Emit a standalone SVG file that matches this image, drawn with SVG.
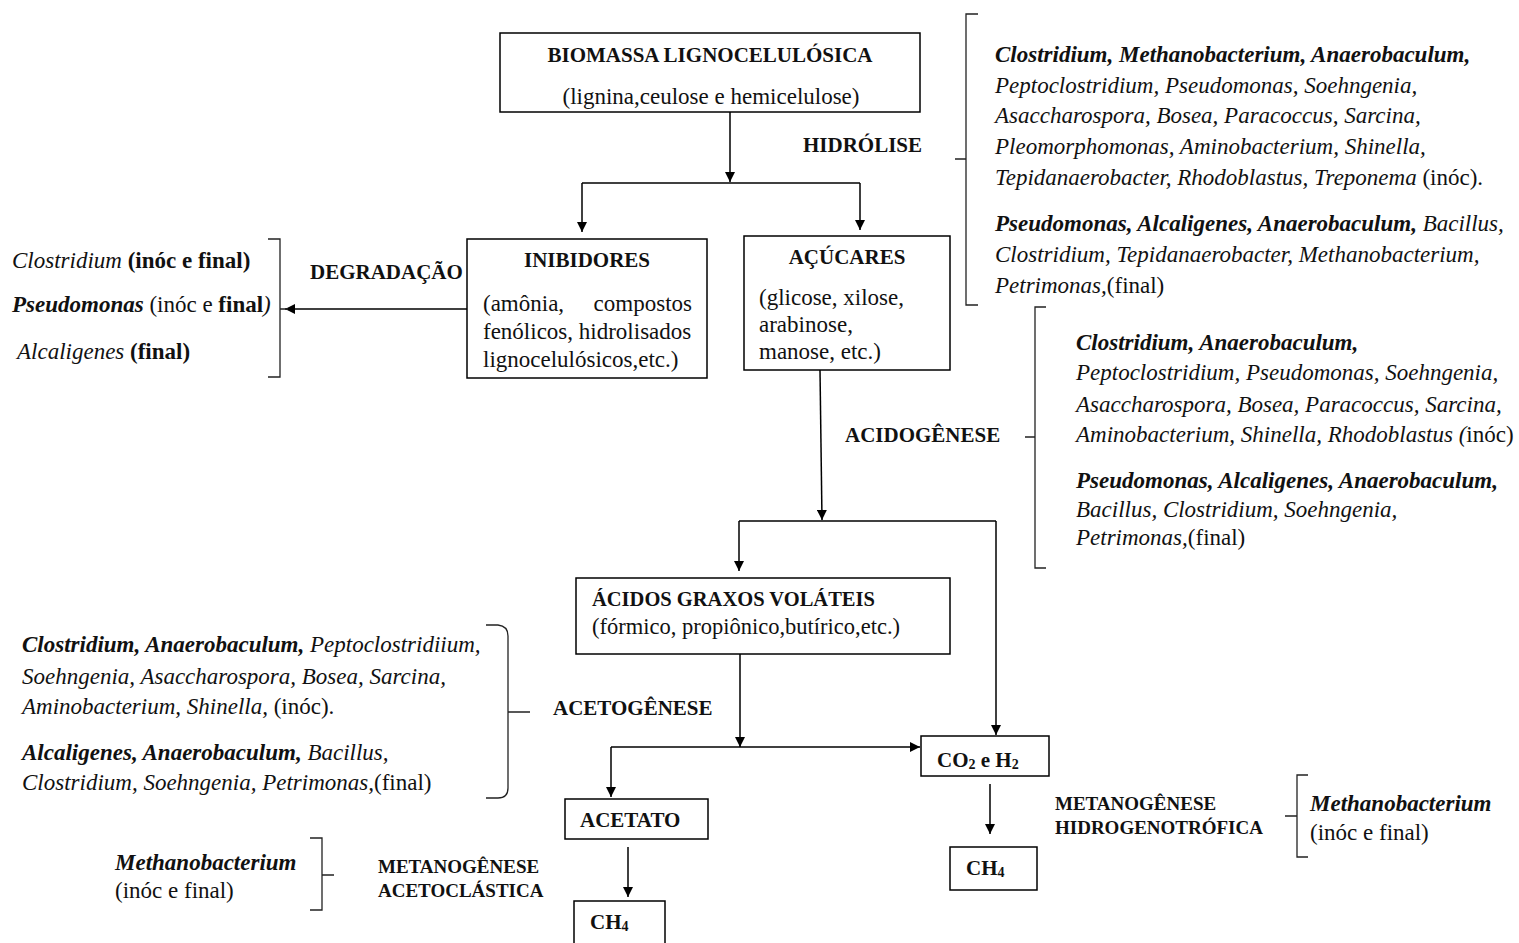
<svg xmlns="http://www.w3.org/2000/svg" width="1519" height="943" viewBox="0 0 1519 943">
<defs>
<marker id="ah" viewBox="0 0 10 10" refX="10" refY="5" markerWidth="10" markerHeight="10" markerUnits="userSpaceOnUse" orient="auto">
<path d="M0,0 L10,5 L0,10 z" fill="#000"/>
</marker>
<style>
text{font-family:"Liberation Serif","Times New Roman",serif;fill:#111;}
.box{fill:#fff;stroke:#000;stroke-width:1.5;}
.ln{fill:none;stroke:#000;stroke-width:1.5;}
.arr{fill:none;stroke:#000;stroke-width:1.5;marker-end:url(#ah);}
.br{fill:none;stroke:#222;stroke-width:1.3;}
.t{font-size:21px;font-weight:bold;}
.s{font-size:19px;font-weight:bold;}
.b{font-size:23px;}
.i{font-style:italic;}
.bi{font-style:italic;font-weight:bold;}
.bo{font-weight:bold;}
</style>
</defs>
<rect width="1519" height="943" fill="#fff"/>

<g id="connectors">
<path class="arr" d="M730,112 L730,182"/>
<path class="ln" d="M582,183 L860,183"/>
<path class="arr" d="M582,183 L582,232"/>
<path class="arr" d="M860,183 L860,230"/>
<path class="arr" d="M467,309 L285,309"/>
<path class="arr" d="M820,370 L822,520"/>
<path class="ln" d="M739,521 L996,521"/>
<path class="arr" d="M739,521 L739,571"/>
<path class="arr" d="M996,521 L996,735"/>
<path class="arr" d="M740,654 L740,747"/>
<path class="arr" d="M611,747 L920,747"/>
<path class="arr" d="M611,747 L611,797"/>
<path class="arr" d="M990,784 L990,834"/>
<path class="arr" d="M628,847 L628,897"/>
</g>

<g id="biomassa">
<rect class="box" x="500" y="33" width="420" height="79"/>
<text class="t" x="710" y="62" text-anchor="middle">BIOMASSA LIGNOCELULÓSICA</text>
<text class="b" x="711" y="104" text-anchor="middle">(lignina,ceulose e hemicelulose)</text>
</g>
<g id="hidrolise"><text class="t" x="803" y="152">HIDRÓLISE</text></g>

<g id="inibidores">
<rect class="box" x="467" y="239" width="240" height="139"/>
<text class="t" x="587" y="267" text-anchor="middle">INIBIDORES</text>
<text class="b" x="483" y="311">(amônia,</text>
<text class="b" x="692" y="311" text-anchor="end">compostos</text>
<text class="b" x="483" y="339">fenólicos, hidrolisados</text>
<text class="b" x="483" y="367">lignocelulósicos,etc.)</text>
</g>

<g id="acucares">
<rect class="box" x="744" y="236" width="206" height="134"/>
<text class="t" x="847" y="264" text-anchor="middle">AÇÚCARES</text>
<text class="b" x="759" y="305">(glicose, xilose,</text>
<text class="b" x="759" y="332">arabinose,</text>
<text class="b" x="759" y="359">manose, etc.)</text>
</g>

<g id="degradacao">
<text class="t" x="310" y="279">DEGRADAÇÃO</text>
<path class="br" d="M268,239 L280,239 L280,377 L268,377 M280,309 L288,309"/>
<text class="b" x="12" y="268"><tspan class="i">Clostridium</tspan> <tspan class="bo">(inóc e final)</tspan></text>
<text class="b" x="12" y="312"><tspan class="bi">Pseudomonas</tspan> (inóc e <tspan class="bo">final</tspan><tspan class="i">)</tspan></text>
<text class="b" x="17" y="359"><tspan class="i">Alcaligenes</tspan> <tspan class="bo">(final)</tspan></text>
</g>

<g id="hidrolise-microbes">
<path class="br" d="M978,14 L966,14 L966,305 L978,305 M966,159 L955,159"/>
<text class="b" x="995" y="62"><tspan class="bi">Clostridium, Methanobacterium, Anaerobaculum,</tspan></text>
<text class="b i" x="995" y="93">Peptoclostridium, Pseudomonas, Soehngenia,</text>
<text class="b i" x="995" y="123">Asaccharospora, Bosea, Paracoccus, Sarcina,</text>
<text class="b i" x="995" y="154">Pleomorphomonas, Aminobacterium, Shinella,</text>
<text class="b" x="995" y="185"><tspan class="i">Tepidanaerobacter, Rhodoblastus, Treponema</tspan> (inóc).</text>
<text class="b" x="995" y="231"><tspan class="bi">Pseudomonas, Alcaligenes, Anaerobaculum,</tspan><tspan class="i"> Bacillus,</tspan></text>
<text class="b i" x="995" y="262">Clostridium,  Tepidanaerobacter, Methanobacterium,</text>
<text class="b" x="995" y="293"><tspan class="i">Petrimonas,</tspan>(final)</text>
</g>

<g id="acidogenese">
<text class="t" x="845" y="442">ACIDOGÊNESE</text>
<path class="br" d="M1046,307 L1035,307 L1035,568 L1046,568 M1035,437 L1025,437"/>
<text class="b bi" x="1076" y="350">Clostridium,  Anaerobaculum,</text>
<text class="b i" x="1076" y="380">Peptoclostridium, Pseudomonas, Soehngenia,</text>
<text class="b i" x="1076" y="412">Asaccharospora, Bosea, Paracoccus, Sarcina,</text>
<text class="b" x="1076" y="442"><tspan class="i">Aminobacterium, Shinella, Rhodoblastus (</tspan>inóc)</text>
<text class="b bi" x="1076" y="488">Pseudomonas, Alcaligenes, Anaerobaculum,</text>
<text class="b i" x="1076" y="517">Bacillus, Clostridium, Soehngenia,</text>
<text class="b" x="1076" y="545"><tspan class="i">Petrimonas,</tspan>(final)</text>
</g>

<g id="acidos">
<rect class="box" x="576" y="578" width="374" height="76"/>
<text style="font-size:20.5px;font-weight:bold" x="592" y="606">ÁCIDOS GRAXOS VOLÁTEIS</text>
<text style="font-size:22.5px" x="592" y="634">(fórmico, propiônico,butírico,etc.)</text>
</g>

<g id="acetogenese">
<text class="t" x="553" y="715">ACETOGÊNESE</text>
<path class="br" d="M486,625 L498,625 Q508,626 508,636 L508,712 L530,712 M508,712 L508,788 Q508,798 498,798 L486,798"/>
<text class="b" x="22" y="652"><tspan class="bi">Clostridium, Anaerobaculum,</tspan><tspan class="i"> Peptoclostridiium,</tspan></text>
<text class="b i" x="22" y="684">Soehngenia, Asaccharospora, Bosea, Sarcina,</text>
<text class="b" x="22" y="714"><tspan class="i">Aminobacterium, Shinella,</tspan> (inóc).</text>
<text class="b" x="22" y="760"><tspan class="bi">Alcaligenes, Anaerobaculum,</tspan><tspan class="i">  Bacillus,</tspan></text>
<text class="b" x="22" y="790"><tspan class="i">Clostridium,  Soehngenia, Petrimonas,</tspan>(final)</text>
</g>

<g id="co2h2">
<rect class="box" x="921" y="736" width="128" height="40"/>
<text class="t" x="937" y="767">CO<tspan style="font-size:14px" dy="2">2</tspan><tspan dy="-2"> e H</tspan><tspan style="font-size:14px" dy="2">2</tspan></text>
</g>

<g id="acetato">
<rect class="box" x="565" y="799" width="143" height="40"/>
<text class="t" x="580" y="827">ACETATO</text>
</g>

<g id="ch4-acetoclastica">
<rect class="box" x="574" y="901" width="91" height="46"/>
<text class="t" x="590" y="929">CH<tspan style="font-size:14px" dy="2">4</tspan></text>
</g>

<g id="ch4-hidrogenotrofica">
<rect class="box" x="950" y="847" width="87" height="43"/>
<text class="t" x="966" y="875">CH<tspan style="font-size:14px" dy="2">4</tspan></text>
</g>

<g id="metanogenese-acetoclastica">
<text class="s" x="378" y="873">METANOGÊNESE</text>
<text class="s" x="378" y="897">ACETOCLÁSTICA</text>
<path class="br" d="M310,838 L322,838 L322,910 L310,910 M322,875 L334,875"/>
<text class="b bi" x="115" y="870">Methanobacterium</text>
<text class="b" x="115" y="898">(inóc e final)</text>
</g>

<g id="metanogenese-hidrogenotrofica">
<text class="s" x="1055" y="810">METANOGÊNESE</text>
<text class="s" x="1055" y="834">HIDROGENOTRÓFICA</text>
<path class="br" d="M1308,775 L1297,775 L1297,857 L1308,857 M1297,816 L1285,816"/>
<text class="b bi" x="1310" y="811">Methanobacterium</text>
<text class="b" x="1310" y="840">(inóc e final)</text>
</g>
</svg>
